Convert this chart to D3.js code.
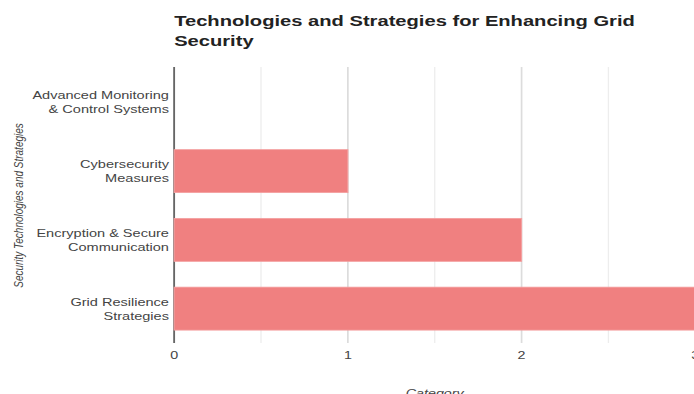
<!DOCTYPE html>
<html>
<head>
<meta charset="utf-8">
<script src="https://cdn.jsdelivr.net/npm/d3@7"></script>
<style>
  html, body { margin: 0; padding: 0; background: #fff; overflow: hidden; }
  svg { display: block; }
  text { font-family: "Liberation Sans", Arial, sans-serif; }
</style>
</head>
<body>
<div id="chart"></div>
<script>
const titleLines = ["Technologies and Strategies for Enhancing Grid", "Security"];
const categories = [
  "Advanced Monitoring & Control Systems",
  "Cybersecurity Measures",
  "Encryption & Secure Communication",
  "Grid Resilience Strategies"
];
const values = [0, 1, 2, 3];
const xTicks = [0, 1, 2, 3];
const xGridTicks = [0, 0.5, 1, 1.5, 2, 2.5, 3];
const xAxisTitle = "Category";
const yAxisTitle = "Security Technologies and Strategies";

const W = 534, H = 394;           // internal drawing units
const PW = 694, PH = 394;         // pixel size (horizontally stretched)
const m = { left: 134, right: -1, top: 68, bottom: 51 };

const svg = d3.select("#chart").append("svg")
  .attr("width", PW).attr("height", PH)
  .attr("viewBox", `0 0 ${W} ${H}`)
  .attr("preserveAspectRatio", "none");

const x = d3.scaleLinear().domain([0, 3]).range([m.left, W - m.right]);
const y = d3.scaleBand().domain(categories).range([m.top, H - m.bottom])
  .paddingInner(0.375).paddingOuter(0.1875);

// title
svg.append("text")
  .attr("x", m.left).attr("y", 26)
  .attr("font-size", 15.5).attr("font-weight", "bold").attr("fill", "#222")
  .selectAll("tspan").data(titleLines).join("tspan")
  .attr("x", m.left).attr("dy", (d, i) => i === 0 ? 0 : 20)
  .text(d => d);

// grid lines
svg.append("g").selectAll("line").data(xGridTicks).join("line")
  .attr("x1", d => x(d)).attr("x2", d => x(d))
  .attr("y1", m.top - 1).attr("y2", H - m.bottom)
  .attr("stroke", d => Number.isInteger(d) ? "#dcdcdc" : "#ededed")
  .attr("stroke-width", d => Number.isInteger(d) ? 1.3 : 1);

// x tick labels
svg.append("g").selectAll("text").data(xTicks).join("text")
  .attr("x", d => x(d)).attr("y", 359)
  .attr("text-anchor", "middle").attr("font-size", 11).attr("fill", "#444")
  .text(d => d);

// y axis line
svg.append("line")
  .attr("x1", m.left).attr("x2", m.left)
  .attr("y1", m.top - 1).attr("y2", H - m.bottom)
  .attr("stroke", "#666").attr("stroke-width", 1.4);

// bars
svg.append("g").selectAll("rect").data(categories).join("rect")
  .attr("x", x(0))
  .attr("y", d => y(d))
  .attr("width", (d, i) => x(values[i]) - x(0))
  .attr("height", y.bandwidth())
  .attr("fill", "#F08080")
  .attr("stroke", "#f4a0a0").attr("stroke-width", 0.8);

// y tick labels (wrapped)
const yl = svg.append("g").selectAll("text").data(categories).join("text")
  .attr("text-anchor", "end").attr("font-size", 11.2).attr("fill", "#444");
yl.each(function(d) {
  const t = d3.select(this);
  const words = d.split(" ");
  const lines = [];
  let cur = [];
  const tmp = t.append("tspan");
  words.forEach(w => {
    const test = cur.concat([w]).join(" ");
    tmp.text(test);
    if (tmp.node().getComputedTextLength() > 110 && cur.length) {
      lines.push(cur.join(" "));
      cur = [w];
    } else cur.push(w);
  });
  lines.push(cur.join(" "));
  tmp.remove();
  const lh = 14;
  const cy = y(d) + y.bandwidth() / 2;
  const y0 = cy - (lines.length - 1) * lh / 2 + 4;
  t.selectAll("tspan").data(lines).join("tspan")
    .attr("x", m.left - 4)
    .attr("y", (l, i) => y0 + i * lh)
    .text(l => l);
});

// axis titles
svg.append("text")
  .attr("transform", `translate(17.5, ${(m.top + H - m.bottom) / 2}) rotate(-90)`)
  .attr("text-anchor", "middle").attr("font-size", 10).attr("font-style", "italic")
  .attr("fill", "#444").text(yAxisTitle);

svg.append("text")
  .attr("x", (x.range()[0] + x.range()[1]) / 2).attr("y", 397)
  .attr("text-anchor", "middle").attr("font-size", 11).attr("font-style", "italic")
  .attr("fill", "#444").text(xAxisTitle);
</script>
</body>
</html>
